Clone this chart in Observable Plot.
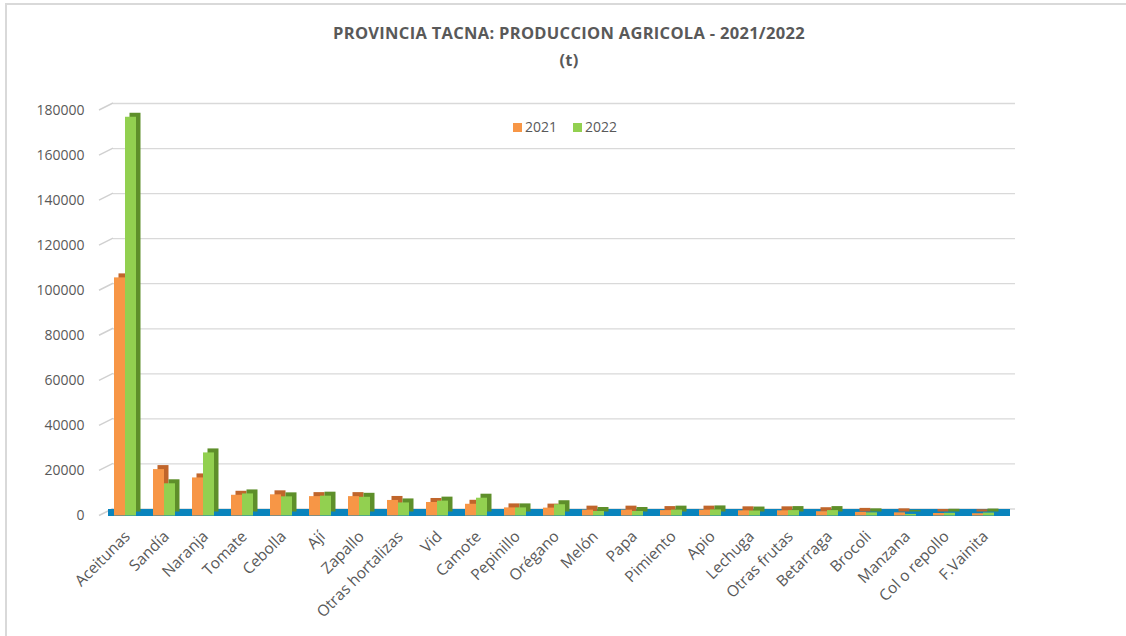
<!DOCTYPE html>
<html>
<head>
<meta charset="utf-8">
<script src="https://cdn.jsdelivr.net/npm/d3@7"></script>
<script src="https://cdn.jsdelivr.net/npm/@observablehq/plot@0.6"></script>
<style>
  html, body { margin: 0; padding: 0; background: #fff; }
  #wrap { position: relative; width: 1126px; height: 636px; overflow: hidden; font-family: 'Open Sans', 'Noto Sans', sans-serif; }
  #border { position: absolute; left: 5px; top: 3px; width: 1200px; height: 700px; border-left: 2px solid #d9d9d9; border-top: 2px solid #d9d9d9; }
  #title { position: relative; height: 80px; box-sizing: border-box; padding-top: 19px; padding-left: 12px; text-align: center; color: #595959; font-weight: bold; font-size: 16.5px; letter-spacing: 0.3px; line-height: 27px; }
  #legend { position: absolute; top: 117px; left: 513px; font-size: 14px; color: #595959; display: flex; gap: 16px; align-items: center; }
  #legend span.sw { display: inline-block; width: 9px; height: 9px; margin-right: 3px; }
  #chart { position: relative; }
</style>
</head>
<body>
<div id="wrap">
  <div id="border"></div>
  <div id="title"></div>
  <div id="legend"></div>
  <div id="chart"></div>
</div>
<script>
const titleLines = ["PROVINCIA TACNA: PRODUCCION AGRICOLA - 2021/2022", "(t)"];
const seriesNames = ["2021", "2022"];
const categories = ["Aceitunas", "Sandía", "Naranja", "Tomate", "Cebolla", "Ají", "Zapallo", "Otras hortalizas", "Vid", "Camote", "Pepinillo", "Orégano", "Melón", "Papa", "Pimiento", "Apio", "Lechuga", "Otras frutas", "Betarraga", "Brocoli", "Manzana", "Col o repollo", "F.Vainita"];
const values2021 = [105700, 20600, 16900, 9200, 9400, 8600, 8600, 6900, 6000, 5200, 3600, 3500, 2600, 2600, 2400, 2600, 2300, 2300, 1900, 1600, 1400, 1100, 1000];
const values2022 = [177000, 14300, 28000, 9800, 8500, 8800, 8300, 5800, 6600, 7900, 3600, 5000, 2000, 2000, 2600, 2700, 2200, 2400, 2400, 1400, 700, 1200, 1300];
const yTicks = [0, 20000, 40000, 60000, 80000, 100000, 120000, 140000, 160000, 180000];

const colors = { front2021: "#f79646", side2021: "#c0652b", front2022: "#92d050", side2022: "#5e8f2a", floor: "#0a84bd", grid: "#d9d9d9", slant: "#d0d0d0", text: "#595959" };

document.getElementById("title").innerHTML = titleLines.map(t => `<div>${t}</div>`).join("");
document.getElementById("legend").innerHTML =
  `<div><span class="sw" style="background:${colors.front2021}"></span>${seriesNames[0]}</div>` +
  `<div><span class="sw" style="background:${colors.front2022}"></span>${seriesNames[1]}</div>`;

const data = categories.map((c, i) => ({ cat: c, v2021: values2021[i], v2022: values2022[i] }));

const marginLeft = 103;
const chart = Plot.plot({
  width: 1126,
  height: 556,
  marginTop: 30,
  marginBottom: 120.5,
  marginLeft: marginLeft,
  marginRight: 121,
  style: { fontFamily: "'Open Sans', 'Noto Sans', sans-serif", color: colors.text, background: "transparent" },
  x: { domain: categories, paddingInner: 0.44, paddingOuter: 0.22, label: null },
  y: { domain: [0, 180000], label: null },
  marks: [
    Plot.gridY(yTicks, { dx: 10, dy: -7, stroke: colors.grid, strokeOpacity: 1, strokeWidth: 1.3 }),
    Plot.ruleY([0], { stroke: colors.floor, strokeWidth: 7, dx: 5, dy: -3.5 }),
    Plot.barY(data, { x: "cat", y: "v2021", fill: colors.side2021, insetRight: 11, dx: 4.5, dy: -4 }),
    Plot.barY(data, { x: "cat", y: "v2021", fill: colors.front2021, insetRight: 11 }),
    Plot.barY(data, { x: "cat", y: "v2022", fill: colors.side2022, insetLeft: 11, dx: 4.5, dy: -4 }),
    Plot.barY(data, { x: "cat", y: "v2022", fill: colors.front2022, insetLeft: 11 }),
    Plot.axisY(yTicks, { tickSize: 0, tickPadding: 19, fontSize: 14, fill: colors.text, tickFormat: d => String(d) }),
    Plot.axisX({ tickSize: 0, tickPadding: 18, tickRotate: -45, fontSize: 15.5, fill: colors.text, dx: 2 })
  ]
});
document.getElementById("chart").appendChild(chart);

// slanted connectors from the front plane to the back wall, positioned with Plot's y scale
try {
  const yScale = chart.scale("y");
  const g = document.createElementNS("http://www.w3.org/2000/svg", "g");
  g.setAttribute("stroke", colors.slant);
  g.setAttribute("stroke-width", "1.5");
  for (const t of yTicks) {
    const y = yScale.apply(t);
    const line = document.createElementNS("http://www.w3.org/2000/svg", "line");
    line.setAttribute("x1", marginLeft - 4);
    line.setAttribute("y1", y);
    line.setAttribute("x2", marginLeft + 10);
    line.setAttribute("y2", y - 7);
    g.appendChild(line);
  }
  const svg = chart.tagName.toLowerCase() === "svg" ? chart : chart.querySelector("svg");
  const kids = Array.from(svg.children).filter(n => n.tagName.toLowerCase() === "g");
  svg.insertBefore(g, kids[1] || null);
} catch (e) { console.error(e); }
</script>
</body>
</html>
